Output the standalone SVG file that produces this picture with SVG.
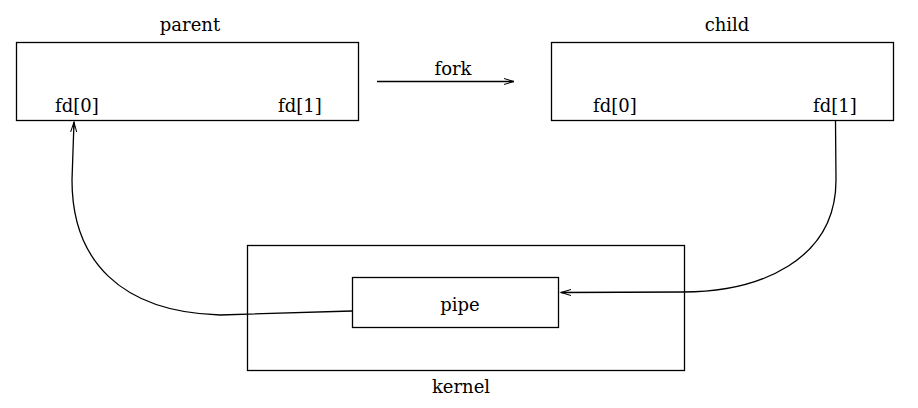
<svg xmlns="http://www.w3.org/2000/svg" width="918" height="408" viewBox="0 0 918 408">
<style>
.box{fill:none;stroke:#000;stroke-width:1.3}
.lbl{font-family:"DejaVu Serif","Liberation Serif",serif;font-size:18px;fill:#000}
.conn{fill:none;stroke:#000;stroke-width:1.3}
</style>
<defs>
<marker id="ah" markerWidth="12" markerHeight="8" refX="10" refY="4" orient="auto" markerUnits="userSpaceOnUse">
<path d="M0,1 L10,4 L0,7 M10,4 L3,4" fill="none" stroke="#000" stroke-width="1"/>
<path d="M5,3 L10,4 L5,5 Z" fill="#000"/>
</marker>
</defs>
<rect width="918" height="408" fill="#fff"/>
<g id="parent">
<rect class="box" x="16.5" y="42.5" width="342" height="78"/>
<text class="lbl" x="190" y="31" text-anchor="middle">parent</text>
<text class="lbl" x="55" y="112">fd[0]</text>
<text class="lbl" x="278" y="112">fd[1]</text>
</g>
<g id="child">
<rect class="box" x="551.5" y="42.5" width="342" height="78"/>
<text class="lbl" x="727" y="31" text-anchor="middle">child</text>
<text class="lbl" x="593" y="112">fd[0]</text>
<text class="lbl" x="813" y="112">fd[1]</text>
</g>
<g id="kernel">
<rect class="box" x="247.5" y="245.5" width="437" height="125"/>
<text class="lbl" x="461" y="393" text-anchor="middle">kernel</text>
</g>
<g id="pipe">
<rect class="box" x="352.5" y="277.5" width="206" height="50"/>
<text class="lbl" x="460" y="311" text-anchor="middle">pipe</text>
</g>
<g id="connectors">
<line class="conn" x1="377" y1="81.5" x2="514" y2="81.5" marker-end="url(#ah)"/>
<text class="lbl" x="453" y="75" text-anchor="middle">fork</text>
<path class="conn" d="M352,311 L220,315 C120,312 72,260 72,180 L74,122" marker-end="url(#ah)"/>
<path class="conn" d="M835.5,121 L836,180 C836,260 760,292 683,292 L561,292.5" marker-end="url(#ah)"/>
</g>
</svg>
